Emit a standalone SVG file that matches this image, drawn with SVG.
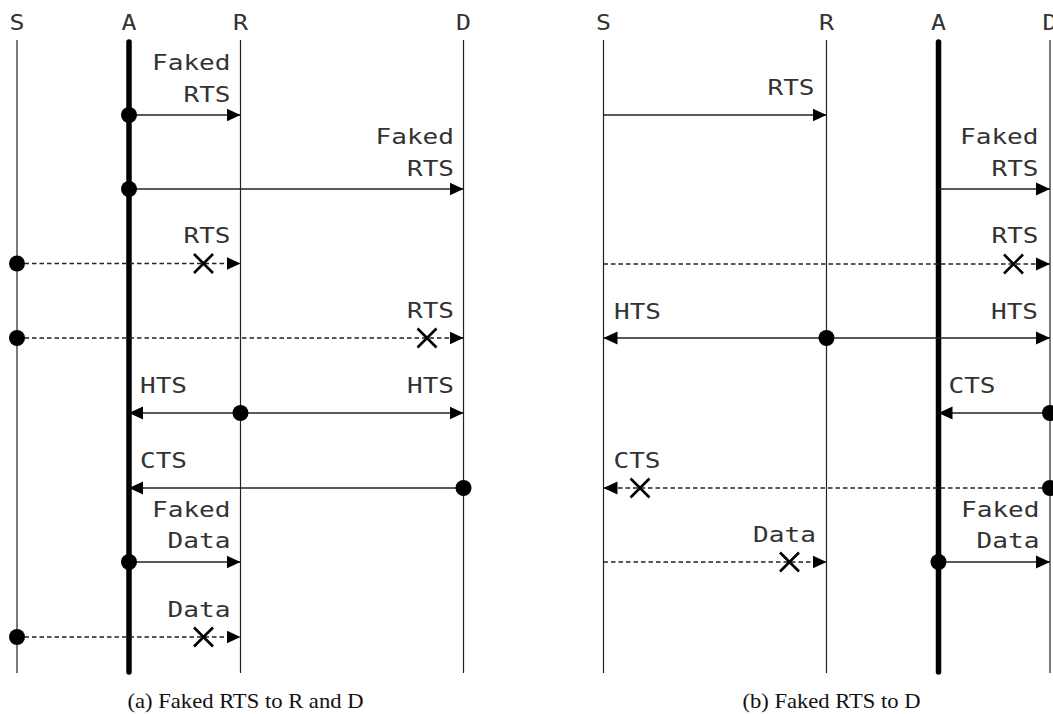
<svg xmlns="http://www.w3.org/2000/svg" width="1053" height="714" viewBox="0 0 1053 714">
<style>
.life{stroke:#222;stroke-width:1.2;fill:none}
.thick{stroke:#000;stroke-width:5.5;stroke-linecap:round;fill:none}
.msg{stroke:#222;stroke-width:1.3;fill:none}
.dash{stroke:#222;stroke-width:1.3;fill:none;stroke-dasharray:4.5 3}
.x{stroke:#000;stroke-width:2.6;fill:none}
.dot{fill:#000}
.lbl{font-family:"DejaVu Sans Mono","Liberation Mono",monospace;font-size:21.5px;fill:#333}
.hdr{font-family:"DejaVu Sans Mono","Liberation Mono",monospace;font-size:21px;fill:#333;text-anchor:middle}
.cap{font-family:"Liberation Serif","Times New Roman",serif;font-size:21.5px;fill:#111;text-anchor:middle}
.e{text-anchor:end}
</style>
<defs>
<marker id="ah" markerUnits="userSpaceOnUse" markerWidth="14" markerHeight="14" viewBox="0 0 13 12" refX="13" refY="6" orient="auto">
<path d="M0,0 L13,6 L0,12 Z" fill="#000"/>
</marker>
</defs>

<g id="panel-a">
<g id="a-S"><text class="hdr" x="17" y="30" textLength="15" lengthAdjust="spacingAndGlyphs">S</text><line class="life" x1="17" y1="40" x2="17" y2="673"/></g>
<g id="a-A"><text class="hdr" x="129" y="30" textLength="15" lengthAdjust="spacingAndGlyphs">A</text><line class="thick" x1="129" y1="42" x2="129" y2="672"/></g>
<g id="a-R"><text class="hdr" x="240.5" y="30" textLength="15" lengthAdjust="spacingAndGlyphs">R</text><line class="life" x1="240.5" y1="40" x2="240.5" y2="673"/></g>
<g id="a-D"><text class="hdr" x="463.5" y="30" textLength="15" lengthAdjust="spacingAndGlyphs">D</text><line class="life" x1="463.5" y1="40" x2="463.5" y2="673"/></g>

<g id="a-connectors">
<line class="msg" x1="129" y1="115" x2="240.5" y2="115" marker-end="url(#ah)"/>
<line class="msg" x1="129" y1="189" x2="463.5" y2="189" marker-end="url(#ah)"/>
<line class="dash" x1="17" y1="263.5" x2="240.5" y2="263.5" marker-end="url(#ah)"/>
<line class="dash" x1="17" y1="338" x2="463.5" y2="338" marker-end="url(#ah)"/>
<line class="msg" x1="240.5" y1="413" x2="129" y2="413" marker-end="url(#ah)"/>
<line class="msg" x1="240.5" y1="413" x2="463.5" y2="413" marker-end="url(#ah)"/>
<line class="msg" x1="463.5" y1="488" x2="129" y2="488" marker-end="url(#ah)"/>
<line class="msg" x1="129" y1="562" x2="240.5" y2="562" marker-end="url(#ah)"/>
<line class="dash" x1="17" y1="637" x2="240.5" y2="637" marker-end="url(#ah)"/>
<path class="x" d="M194,254 L213,273 M213,254 L194,273"/>
<path class="x" d="M417.5,328.5 L436.5,347.5 M436.5,328.5 L417.5,347.5"/>
<path class="x" d="M194,627.5 L213,646.5 M213,627.5 L194,646.5"/>
<circle class="dot" cx="129" cy="115" r="8"/>
<circle class="dot" cx="129" cy="189" r="8"/>
<circle class="dot" cx="17" cy="263.5" r="8"/>
<circle class="dot" cx="17" cy="338" r="8"/>
<circle class="dot" cx="240.5" cy="413" r="8"/>
<circle class="dot" cx="463.5" cy="488" r="8"/>
<circle class="dot" cx="129" cy="562" r="8"/>
<circle class="dot" cx="17" cy="637" r="8"/>
</g>

<g id="a-labels">
<text class="lbl e" x="230.5" y="70" textLength="78.5" lengthAdjust="spacingAndGlyphs">Faked</text>
<text class="lbl e" x="230.5" y="101.5" textLength="47" lengthAdjust="spacingAndGlyphs">RTS</text>
<text class="lbl e" x="454" y="144" textLength="78.5" lengthAdjust="spacingAndGlyphs">Faked</text>
<text class="lbl e" x="454" y="175.7" textLength="47" lengthAdjust="spacingAndGlyphs">RTS</text>
<text class="lbl e" x="230.5" y="243.3" textLength="47" lengthAdjust="spacingAndGlyphs">RTS</text>
<text class="lbl e" x="454" y="318.3" textLength="47" lengthAdjust="spacingAndGlyphs">RTS</text>
<text class="lbl" x="140" y="392.7" textLength="47" lengthAdjust="spacingAndGlyphs">HTS</text>
<text class="lbl e" x="454" y="392.7" textLength="47" lengthAdjust="spacingAndGlyphs">HTS</text>
<text class="lbl" x="140" y="468.3" textLength="47" lengthAdjust="spacingAndGlyphs">CTS</text>
<text class="lbl e" x="230.5" y="516.7" textLength="78.5" lengthAdjust="spacingAndGlyphs">Faked</text>
<text class="lbl e" x="230.5" y="548.3" textLength="63" lengthAdjust="spacingAndGlyphs">Data</text>
<text class="lbl e" x="230.5" y="616.7" textLength="63" lengthAdjust="spacingAndGlyphs">Data</text>
</g>
<text class="cap" x="245.5" y="708" textLength="236" lengthAdjust="spacingAndGlyphs">(a) Faked RTS to R and D</text>
</g>

<g id="panel-b">
<g id="b-S"><text class="hdr" x="603.5" y="30" textLength="15" lengthAdjust="spacingAndGlyphs">S</text><line class="life" x1="603.5" y1="40" x2="603.5" y2="673"/></g>
<g id="b-R"><text class="hdr" x="826.5" y="30" textLength="15" lengthAdjust="spacingAndGlyphs">R</text><line class="life" x1="826.5" y1="40" x2="826.5" y2="673"/></g>
<g id="b-A"><text class="hdr" x="938.5" y="30" textLength="15" lengthAdjust="spacingAndGlyphs">A</text><line class="thick" x1="938.5" y1="42" x2="938.5" y2="672"/></g>
<g id="b-D"><text class="hdr" x="1050" y="30" textLength="15" lengthAdjust="spacingAndGlyphs">D</text><line class="life" x1="1050" y1="40" x2="1050" y2="673"/></g>

<g id="b-connectors">
<line class="msg" x1="603.5" y1="115" x2="826.5" y2="115" marker-end="url(#ah)"/>
<line class="msg" x1="938.5" y1="189" x2="1050" y2="189" marker-end="url(#ah)"/>
<line class="dash" x1="603.5" y1="264" x2="1050" y2="264" marker-end="url(#ah)"/>
<line class="msg" x1="826.5" y1="338" x2="603.5" y2="338" marker-end="url(#ah)"/>
<line class="msg" x1="826.5" y1="338" x2="1050" y2="338" marker-end="url(#ah)"/>
<line class="msg" x1="1050" y1="413" x2="938.5" y2="413" marker-end="url(#ah)"/>
<line class="dash" x1="1050" y1="488" x2="603.5" y2="488" marker-end="url(#ah)"/>
<line class="dash" x1="603.5" y1="562" x2="826.5" y2="562" marker-end="url(#ah)"/>
<line class="msg" x1="938.5" y1="562" x2="1050" y2="562" marker-end="url(#ah)"/>
<path class="x" d="M1004,254.5 L1023,273.5 M1023,254.5 L1004,273.5"/>
<path class="x" d="M630.5,478.5 L649.5,497.5 M649.5,478.5 L630.5,497.5"/>
<path class="x" d="M780,552.5 L799,571.5 M799,552.5 L780,571.5"/>
<circle class="dot" cx="826.5" cy="338" r="8"/>
<circle class="dot" cx="1050" cy="413" r="8"/>
<circle class="dot" cx="1050" cy="488" r="8"/>
<circle class="dot" cx="938.5" cy="562" r="8"/>
</g>

<g id="b-labels">
<text class="lbl e" x="814.5" y="95" textLength="47" lengthAdjust="spacingAndGlyphs">RTS</text>
<text class="lbl e" x="1038.5" y="144" textLength="78.5" lengthAdjust="spacingAndGlyphs">Faked</text>
<text class="lbl e" x="1038.5" y="175.7" textLength="47" lengthAdjust="spacingAndGlyphs">RTS</text>
<text class="lbl e" x="1038.5" y="243.3" textLength="47" lengthAdjust="spacingAndGlyphs">RTS</text>
<text class="lbl" x="614" y="319.3" textLength="47" lengthAdjust="spacingAndGlyphs">HTS</text>
<text class="lbl e" x="1038" y="319.3" textLength="47" lengthAdjust="spacingAndGlyphs">HTS</text>
<text class="lbl" x="948.5" y="393.3" textLength="47" lengthAdjust="spacingAndGlyphs">CTS</text>
<text class="lbl" x="613.5" y="468.3" textLength="47" lengthAdjust="spacingAndGlyphs">CTS</text>
<text class="lbl e" x="816" y="542.3" textLength="63" lengthAdjust="spacingAndGlyphs">Data</text>
<text class="lbl e" x="1039.5" y="516.7" textLength="78.5" lengthAdjust="spacingAndGlyphs">Faked</text>
<text class="lbl e" x="1039.5" y="548.3" textLength="63" lengthAdjust="spacingAndGlyphs">Data</text>
</g>
<text class="cap" x="831.5" y="708" textLength="178" lengthAdjust="spacingAndGlyphs">(b) Faked RTS to D</text>
</g>
</svg>
